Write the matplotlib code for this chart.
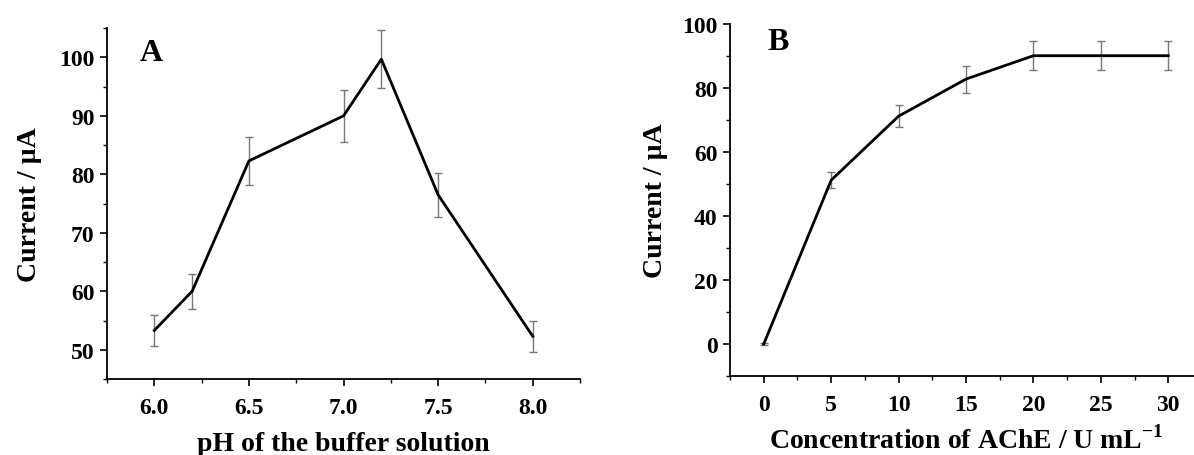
import matplotlib
matplotlib.use("Agg")
import matplotlib.pyplot as plt
from matplotlib.ticker import MultipleLocator

plt.rcParams['font.family'] = ['Liberation Serif', 'DejaVu Serif']
plt.rcParams['font.weight'] = 'bold'
plt.rcParams['mathtext.fontset'] = 'custom'
plt.rcParams['mathtext.rm'] = 'Liberation Serif:bold'
plt.rcParams['mathtext.bf'] = 'Liberation Serif:bold'

# panel A: pH
ph = [6.0, 6.2, 6.5, 7.0, 7.2, 7.5, 8.0]
current_a = [53.3, 60.0, 82.3, 90.0, 99.7, 76.5, 52.3]
err_a = [2.6, 3.0, 4.1, 4.5, 5.0, 3.8, 2.6]

# panel B: AChE concentration
conc = [0, 5, 10, 15, 20, 25, 30]
current_b = [0, 51.2, 71.2, 82.8, 90.1, 90.1, 90.1]
err_b = [0.3, 2.5, 3.5, 4.2, 4.5, 4.5, 4.5]

fig = plt.figure(figsize=(11.94, 4.56), dpi=100)
ax1 = fig.add_axes([0.0896, 0.1667, 0.3962, 0.7693])
ax2 = fig.add_axes([0.6114, 0.1732, 0.3953, 0.7719])


def style(ax):
    for s in ['top', 'right']:
        ax.spines[s].set_visible(False)
    for s in ['left', 'bottom']:
        ax.spines[s].set_linewidth(1.3)
    ax.tick_params(which='major', direction='out', length=5, width=1.2, labelsize=17, pad=4)
    ax.tick_params(axis='x', which='major', pad=8)
    ax.tick_params(which='minor', direction='out', length=3, width=1.0)
    for lab in ax.get_xticklabels() + ax.get_yticklabels():
        lab.set_fontweight('bold')


ax1.errorbar(ph, current_a, yerr=err_a, color='black', lw=2, ecolor='#777777',
             elinewidth=1, capsize=3, capthick=1)
ax1.set_xlim(5.75, 8.25)
ax1.set_ylim(45, 105)
ax1.xaxis.set_major_locator(MultipleLocator(0.5))
ax1.xaxis.set_minor_locator(MultipleLocator(0.25))
ax1.yaxis.set_major_locator(MultipleLocator(10))
ax1.yaxis.set_minor_locator(MultipleLocator(5))
ax1.set_xticks([6.0, 6.5, 7.0, 7.5, 8.0])
ax1.set_xticklabels(['6.0', '6.5', '7.0', '7.5', '8.0'])
style(ax1)
ax1.set_xlabel('pH of the buffer solution', fontsize=20, fontweight='bold', labelpad=9)
ax1.set_ylabel('Current / µA', fontsize=20, fontweight='bold', labelpad=12)
ax1.text(0.07, 0.93, 'A', transform=ax1.transAxes, fontsize=23, fontweight='bold',
         va='center', ha='left')

ax2.errorbar(conc, current_b, yerr=err_b, color='black', lw=2, ecolor='#777777',
             elinewidth=1, capsize=3, capthick=1)
ax2.set_xlim(-2.5, 32.5)
ax2.set_ylim(-10, 100)
ax2.xaxis.set_major_locator(MultipleLocator(5))
ax2.xaxis.set_minor_locator(MultipleLocator(2.5))
ax2.yaxis.set_major_locator(MultipleLocator(20))
ax2.yaxis.set_minor_locator(MultipleLocator(10))
ax2.set_xticks([0, 5, 10, 15, 20, 25, 30])
ax2.set_yticks([0, 20, 40, 60, 80, 100])
style(ax2)
ax2.set_xlabel('Concentration of AChE / U mL$^{-1}$', fontsize=20,
               fontweight='bold', labelpad=7)
ax2.set_ylabel('Current / µA', fontsize=20, fontweight='bold', labelpad=10)
ax2.text(0.08, 0.95, 'B', transform=ax2.transAxes, fontsize=23, fontweight='bold',
         va='center', ha='left')

fig.savefig('out.png', dpi=100)
